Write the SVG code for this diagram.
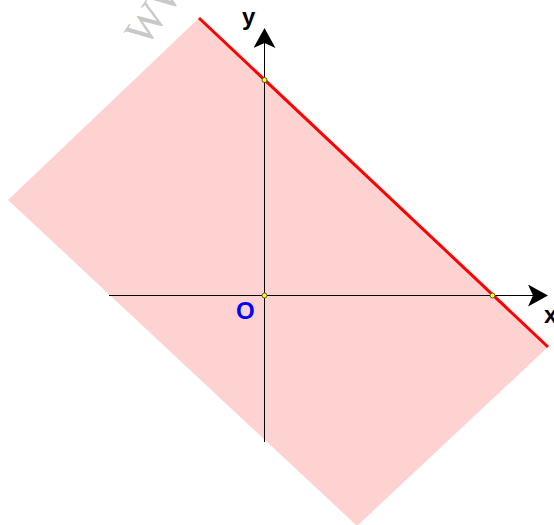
<svg xmlns="http://www.w3.org/2000/svg" width="554" height="525" viewBox="0 0 554 525">
<style>
.lbl{font-family:"Liberation Sans",Arial,sans-serif;font-weight:bold;font-size:24px}
.ax{stroke:#000;stroke-width:1}
.pt{fill:#ffff00;stroke:#333;stroke-width:0.8}
</style>
<defs>
<marker id="arr" viewBox="0 0 20 22" refX="19" refY="11" markerWidth="20" markerHeight="22" markerUnits="userSpaceOnUse" orient="auto">
<path d="M0,0 L20,11 L0,22 L5,11 Z" fill="#000"/>
</marker>
</defs>
<rect width="554" height="525" fill="#fff"/>
<g id="region">
<polygon points="199,18 548,347 357,526 8,200" fill="#ffd2d2"/>
</g>
<g id="watermark">
<text x="146" y="48" transform="rotate(-55 146 48)" font-family="'Liberation Serif',serif" font-size="42" fill="#c8c8c8">WW</text>
</g>
<g id="connectors">
<line class="ax" x1="109" y1="295.5" x2="547" y2="295.5" marker-end="url(#arr)"/>
<line class="ax" x1="264.5" y1="442" x2="264.5" y2="29" marker-end="url(#arr)"/>
<line x1="199" y1="18" x2="548" y2="347" stroke="#ff0000" stroke-width="3"/>
</g>
<g id="points">
<circle class="pt" cx="264.5" cy="80" r="2.5"/>
<circle class="pt" cx="264.5" cy="295.5" r="2.5"/>
<circle class="pt" cx="492.5" cy="295.5" r="2.5"/>
</g>
<g id="labels">
<text class="lbl" x="242" y="25" fill="#000">y</text>
<text class="lbl" x="236" y="319" fill="#0000ff">O</text>
<text class="lbl" x="544" y="323" fill="#000">x</text>
</g>
</svg>
